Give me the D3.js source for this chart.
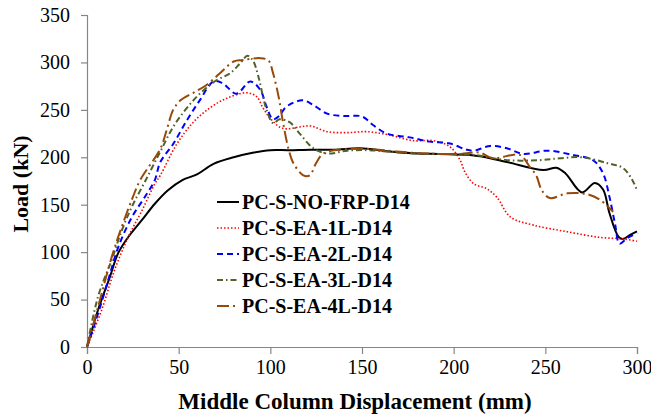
<!DOCTYPE html>
<html>
<head>
<meta charset="utf-8">
<script src="https://cdn.jsdelivr.net/npm/d3@7"></script>
<style>
  body { margin: 0; background: #fff; }
</style>
</head>
<body>
<div id="chart"></div>
<script>
// displacement (mm), load (kN)
const noFrp = [[0,0],[6,39],[12.5,74],[17,99],[22.5,116],[30,134],[37,151],[44,165],[52,176],[60,182],[69,193],[80,200],[91,205],[100,207.5],[110,207.5],[122,208],[135,208],[149,209.5],[165,206],[180,204],[192,203.5],[209,202.5],[216,200.5],[229,195],[249,186.5],[256,189],[261,183],[270,163],[277,173],[281.5,166],[285,141],[290,116],[292.5,114],[296,118],[300,122]];
const ea1L = [[0,0],[8,39],[15,81],[22.5,116],[30,144],[37,172],[40,181],[49,214],[58,237],[67,252],[76,262],[87,268],[92.5,264],[96,252],[100,241],[105,232],[109,230],[116,232],[122,233],[131,227],[142,226],[153,227],[165,223.5],[178,217.5],[189,217.5],[198,211],[203.5,197],[206,185],[211,172],[218,167],[223.5,158],[231,137],[243.5,128.5],[262,121.5],[280,115.5],[292.5,114],[300,111.5]];
const ea2L = [[0,0],[6,35],[11.5,70],[17,105],[24.5,137],[31.5,158],[37,176],[40,195],[47,214],[54.5,239],[61.5,260],[69,280],[74,278],[81.5,267],[89,280],[94.5,271],[98,253],[101.5,240],[105,244],[108,252],[113,258],[118,260],[123.5,255],[131,246],[140,243.5],[150,243],[156,234],[163.5,225],[176,221],[187,216.5],[198,214.5],[207,208],[211,207],[220,212],[229,209.5],[238,203.5],[251,207],[265,202.5],[276,197],[281.5,183],[285,158],[288,130],[290.5,109],[294.5,114.5],[300,120]];
const ea3L = [[0,0],[6,53],[13.5,92],[19,123],[24.5,148],[31.5,174],[40,206],[47,232],[54.5,252],[61.5,267],[70.5,281],[78,288.5],[83.5,299],[87.5,307],[90.5,302],[93.5,285],[96,264],[98,250],[101.5,236],[105,240],[110.5,237],[116,225],[123.5,209.5],[131,204],[142,207],[153,207.5],[164,206],[178,204],[192.5,203.5],[211,202.5],[229,197],[247,197],[258,199],[270,200],[283.5,194],[292.5,188.5],[298,174],[300,165]];
const ea4L = [[0,0],[6,42],[13.5,95],[19,127],[25,158],[29,176],[40,209],[43.5,229],[47,250],[51,260],[58,268],[65,276],[72.5,288.5],[80,301],[85,302.5],[94.5,304.5],[99,302],[101.5,288.5],[104.5,264],[107,236],[110,208],[112.5,194],[118,181],[121.5,181],[125,194],[129,204],[140,208.5],[156,208.5],[169,206],[185,204],[203.5,203.5],[214,205],[221.5,199],[236,202.5],[241.5,190],[245,181],[248,165.5],[252.5,157],[262,162],[273,161],[280,155],[287,142.5]];

const seriesNames = ["PC-S-NO-FRP-D14", "PC-S-EA-1L-D14", "PC-S-EA-2L-D14", "PC-S-EA-3L-D14", "PC-S-EA-4L-D14"];
const xTicks = [0, 50, 100, 150, 200, 250, 300];
const yTicks = [0, 50, 100, 150, 200, 250, 300, 350];

const font = "Liberation Serif";

const styles = [
  { color: "#000000", dash: null, width: 2 },
  { color: "#ff0000", dash: "1.5,2", width: 1.6 },
  { color: "#0000ff", dash: "6,4", width: 2 },
  { color: "#4f6228", dash: "6,3,1.5,3", width: 2 },
  { color: "#984807", dash: "12,4,2,4", width: 2 }
];

const width = 651, height = 416;
const margin = { top: 15, right: 14, bottom: 69, left: 87 };

const svg = d3.select("#chart").append("svg")
  .attr("width", width).attr("height", height)
  .attr("font-family", font);

const x = d3.scaleLinear().domain([0, 300]).range([margin.left, width - margin.right]);
const y = d3.scaleLinear().domain([0, 350]).range([height - margin.bottom, margin.top]);

const line = d3.line()
  .x(d => x(d[0]))
  .y(d => y(d[1]))
  .curve(d3.curveCatmullRom.alpha(0.5));

// axes
const yAxis = svg.append("g")
  .attr("transform", `translate(${margin.left},0)`)
  .call(d3.axisLeft(y).tickValues(yTicks).tickSize(6).tickPadding(11));
const xAxis = svg.append("g")
  .attr("transform", `translate(0,${height - margin.bottom})`)
  .call(d3.axisBottom(x).tickValues(xTicks).tickSize(7).tickPadding(6));

[xAxis, yAxis].forEach(g => {
  g.attr("font-family", font).attr("font-size", 20);
  g.select(".domain").attr("stroke", "#868686").attr("stroke-width", 1.2);
  g.selectAll(".tick line").attr("stroke", "#868686").attr("stroke-width", 1.2);
  g.selectAll(".tick text").attr("fill", "#000");
});

// curves
[noFrp, ea1L, ea2L, ea3L, ea4L].forEach((data, i) => {
  svg.append("path")
    .datum(data)
    .attr("d", line)
    .attr("fill", "none")
    .attr("stroke", styles[i].color)
    .attr("stroke-width", styles[i].width)
    .attr("stroke-dasharray", styles[i].dash)
    .attr("stroke-linejoin", "round");
});

// legend
const legend = svg.append("g").attr("transform", "translate(217,202)");
seriesNames.forEach((name, i) => {
  const row = legend.append("g").attr("transform", `translate(0,${i * 26})`);
  row.append("line")
    .attr("x1", 0).attr("x2", 22).attr("y1", 0).attr("y2", 0)
    .attr("stroke", styles[i].color)
    .attr("stroke-width", styles[i].width)
    .attr("stroke-dasharray", styles[i].dash);
  row.append("text")
    .attr("x", 25).attr("y", 7)
    .attr("font-size", 20)
    .attr("font-weight", "bold")
    .text(name);
});

// axis titles
svg.append("text")
  .attr("x", (margin.left + width - margin.right) / 2 - 7)
  .attr("y", 409)
  .attr("text-anchor", "middle")
  .attr("font-size", 23)
  .attr("font-weight", "bold")
  .text("Middle Column Displacement (mm)");

svg.append("text")
  .attr("transform", "translate(28,184) rotate(-90)")
  .attr("text-anchor", "middle")
  .attr("font-size", 22)
  .attr("font-weight", "bold")
  .text("Load (kN)");
</script>
</body>
</html>
